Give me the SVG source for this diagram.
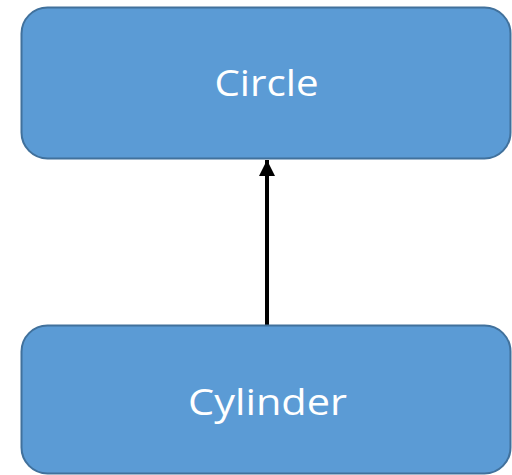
<svg xmlns="http://www.w3.org/2000/svg" width="512" height="475" viewBox="0 0 512 475">
<style>
.box{fill:#5b9bd5;stroke:#41719c;stroke-width:2}
.lbl{fill:#ffffff;font-family:"Open Sans","Liberation Sans",sans-serif;font-size:36px;text-anchor:middle}
.conn{stroke:#000;stroke-width:4;fill:none}
</style>
<defs>
<marker id="ah" markerUnits="userSpaceOnUse" markerWidth="16" markerHeight="17" refX="16" refY="8" orient="auto">
<path d="M0,0 L16,8 L0,16 Z" fill="#000"/>
</marker>
</defs>
<g id="connectors">
<line class="conn" x1="267" y1="325" x2="267" y2="160" marker-end="url(#ah)"/>
</g>
<g id="circle">
<rect class="box" x="21.5" y="7.5" width="489" height="151" rx="26" ry="26"/>
<text class="lbl" x="266.5" y="96" textLength="104" lengthAdjust="spacingAndGlyphs">Circle</text>
</g>
<g id="cylinder">
<rect class="box" x="21.5" y="325.5" width="489" height="148" rx="26" ry="26"/>
<text class="lbl" x="267.5" y="415" textLength="159" lengthAdjust="spacingAndGlyphs">Cylinder</text>
</g>
</svg>
